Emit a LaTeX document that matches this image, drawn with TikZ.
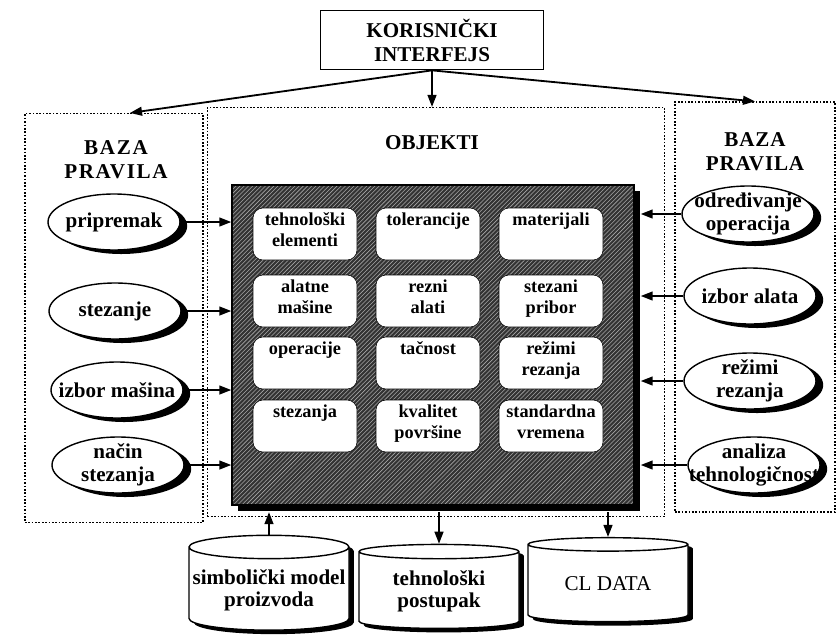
\documentclass[tikz,border=0pt]{standalone}
\usepackage{fontspec}
\setmainfont{Liberation Serif}
\usetikzlibrary{arrows.meta,positioning,shapes.geometric,shadows,patterns}

% text of a cell starts at its top
\newcommand{\cellbox}[1]{\parbox[c][10.6mm][t]{24mm}{\centering #1}}

\begin{document}
\begin{tikzpicture}[x=0.25mm,y=-0.25mm,
panel/.style={draw,line width=.8pt,dash pattern=on 1.2pt off 1.2pt,inner sep=0},
title/.style={font={\fontsize{15}{17}\selectfont\bfseries},align=center},
rule/.style={ellipse,draw,line width=1pt,fill=white,minimum width=33mm,minimum height=14mm,
  inner xsep=-5mm,inner ysep=-1mm,align=center,font={\fontsize{15}{16}\selectfont\bfseries},
  drop shadow={shadow xshift=1.8mm,shadow yshift=-1mm,fill=black,opacity=1}},
cell/.style={draw,fill=white,rounded corners=2.5mm,inner sep=1mm,minimum width=25mm,
  minimum height=13mm,font={\fontsize{13}{15}\selectfont\bfseries}},
db/.style={cylinder,shape border rotate=90,aspect=.15,draw,line width=1pt,fill=white,
  minimum width=40mm,minimum height=21mm,inner xsep=1pt,inner ysep=2.5mm,align=center,
  font={\fontsize{15}{15.6}\selectfont\bfseries},
  drop shadow={shadow xshift=1.2mm,shadow yshift=-1mm,fill=black,opacity=1}},
arr/.style={-{Triangle[length=3mm,width=2.2mm]},line width=1.3pt}]
\useasboundingbox (0,0) rectangle (839,637);

% user interface
\node[draw,line width=1.2pt,minimum width=55.75mm,minimum height=14.75mm,title] (K) at (432,40) {KORISNIČKI\\INTERFEJS};

% dotted panels
\node[panel,minimum width=44.5mm,minimum height=102.25mm] (L) at (114,318) {};
\node[panel,minimum width=114.25mm,minimum height=102.25mm] (M) at (436,312) {};
\node[panel,minimum width=40mm,minimum height=102.5mm] (Rb) at (755,307) {};
\node[title] (LT) at (116,160) {\addfontfeature{LetterSpace=8}BAZA\\\addfontfeature{LetterSpace=8}PRAVILA};
\node[title] (MT) at (432,143) {OBJEKTI};
\node[title] (RT) at (755,152) {\addfontfeature{LetterSpace=4}BAZA\\\addfontfeature{LetterSpace=4}PRAVILA};

% objects
\node[draw,line width=1pt,drop shadow={shadow xshift=1.5mm,shadow yshift=-1.6mm,fill=black,opacity=1},
  preaction={fill=black!80},pattern=north east lines,pattern color=black!35,
  minimum width=100.5mm,minimum height=80mm] (O) at (433,345) {};

\node[cell] (C11) at (305,234) {\cellbox{tehnološki\\elementi}};
\node[cell] (C12) at (428,234) {\cellbox{tolerancije}};
\node[cell] (C13) at (551,234) {\cellbox{materijali}};
\node[cell] (C21) at (305,301) {\cellbox{alatne\\mašine}};
\node[cell] (C22) at (428,301) {\cellbox{rezni\\alati}};
\node[cell] (C23) at (551,301) {\cellbox{stezani\\pribor}};
\node[cell] (C31) at (305,363) {\cellbox{operacije}};
\node[cell] (C32) at (428,363) {\cellbox{tačnost}};
\node[cell] (C33) at (551,363) {\cellbox{režimi\\rezanja}};
\node[cell] (C41) at (305,426) {\cellbox{stezanja}};
\node[cell] (C42) at (428,426) {\cellbox{kvalitet\\površine}};
\node[cell] (C43) at (551,426) {\cellbox{standardna\\vremena}};

% rules
\node[rule] (P1) at (114,222) {pripremak};
\node[rule] (P2) at (115,311) {stezanje};
\node[rule] (P3) at (117,390) {izbor mašina};
\node[rule] (P4) at (118,465) {način\\stezanja};
\node[rule] (R1) at (748,214) {određivanje\\operacija};
\node[rule] (R2) at (750,296) {izbor alata};
\node[rule] (R3) at (750,381) {režimi\\rezanja};
\node[rule] (R4) at (754,465) {analiza\\tehnologičnost};

% databases
\node[db] (D1) at (269,590) {simbolički model\\proizvoda};
\node[db] (D2) at (439,591) {tehnološki\\postupak};
\node[db,font={\fontsize{15}{15.6}\selectfont}] (D3) at (608,584) {CL DATA};

\draw[arr] (K.south) -- ([xshift=4mm]L.north);
\draw[arr] (K.south) -- (M.north -| K.south);
\draw[arr] (K.south) -- (Rb.north);
\foreach \i in {1,...,4} {
  \draw[arr] (P\i.east) -- (O.west |- P\i.east);
  \draw[arr] (R\i.west) -- ([xshift=1.5mm]O.east |- R\i.west);
}
\draw[arr] (D1.north) -- ([yshift=-1.6mm]O.south -| D1.north);
\draw[arr] ([yshift=-1.6mm]O.south -| D2.north) -- (D2.north);
\draw[arr] ([yshift=-1.6mm]O.south -| D3.north) -- (D3.north);
\end{tikzpicture}
\end{document}
